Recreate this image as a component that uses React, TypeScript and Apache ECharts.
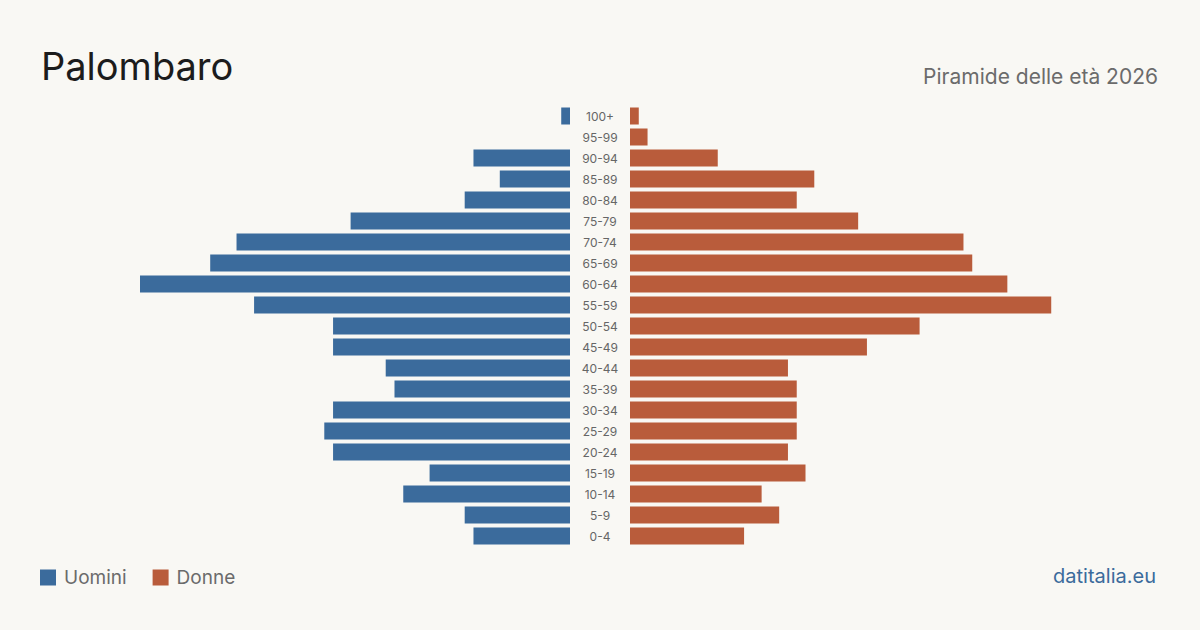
import React, { useEffect, useRef } from "react";
import * as echarts from "echarts";

// Age classes, top of the pyramid first
const ageClasses = [
  "100+", "95-99", "90-94", "85-89", "80-84", "75-79", "70-74", "65-69",
  "60-64", "55-59", "50-54", "45-49", "40-44", "35-39", "30-34", "25-29",
  "20-24", "15-19", "10-14", "5-9", "0-4",
];

const men = [1, 0, 11, 8, 12, 25, 38, 41, 49, 36, 27, 27, 21, 20, 27, 28, 27, 16, 19, 12, 11];
const women = [1, 2, 10, 21, 19, 26, 38, 39, 43, 48, 33, 27, 18, 19, 19, 19, 18, 20, 15, 17, 13];

const axisMax = 49;

const BLUE = "#3b6b9c";
const ORANGE = "#b95c3b";
const BG = "#f9f8f4";
const FONT = "Inter, 'Noto Sans', sans-serif";

export default function App() {
  const ref = useRef<HTMLDivElement>(null);

  useEffect(() => {
    if (!ref.current) return;
    const chart = echarts.init(ref.current, undefined, { renderer: "svg" });
    const gridTop = 105.5;
    const gridHeight = 441;
    chart.setOption({
      animation: false,
      backgroundColor: BG,
      textStyle: { fontFamily: FONT },
      title: [
        {
          text: "Palombaro",
          left: 36,
          top: 42,
          textStyle: { fontFamily: FONT, fontSize: 38, fontWeight: 400, color: "#1c1c1c" },
        },
        {
          text: "Piramide delle età 2026",
          right: 37,
          top: 61,
          textStyle: { fontFamily: FONT, fontSize: 21, fontWeight: 400, color: "#6b6b6b" },
        },
        {
          text: "datitalia.eu",
          right: 39,
          top: 561,
          textStyle: { fontFamily: FONT, fontSize: 20, fontWeight: 400, color: BLUE },
        },
      ],
      legend: {
        left: 40,
        top: 568,
        padding: 0,
        itemWidth: 16,
        itemHeight: 16,
        itemGap: 26,
        icon: "rect",
        textStyle: { fontFamily: FONT, fontSize: 19, color: "#6b6b6b", padding: [0, 0, 0, 3] },
        data: ["Uomini", "Donne"],
      },
      grid: [
        { left: 140, width: 430, top: gridTop, height: gridHeight },
        { left: 630, width: 430, top: gridTop, height: gridHeight },
      ],
      xAxis: [
        {
          gridIndex: 0, type: "value", min: 0, max: axisMax, inverse: true,
          axisLine: { show: false }, axisTick: { show: false },
          axisLabel: { show: false }, splitLine: { show: false },
        },
        {
          gridIndex: 1, type: "value", min: 0, max: axisMax,
          axisLine: { show: false }, axisTick: { show: false },
          axisLabel: { show: false }, splitLine: { show: false },
        },
      ],
      yAxis: [
        {
          gridIndex: 0, type: "category", data: ageClasses, inverse: true,
          position: "right",
          axisLine: { show: false }, axisTick: { show: false },
          axisLabel: { show: false },
        },
        {
          gridIndex: 1, type: "category", data: ageClasses, inverse: true,
          position: "left",
          axisLine: { show: false }, axisTick: { show: false },
          axisLabel: {
            show: true, margin: 30, align: "center",
            fontFamily: FONT, fontSize: 12, color: "#666666",
          },
        },
      ],
      series: [
        {
          name: "Uomini", type: "bar", xAxisIndex: 0, yAxisIndex: 0,
          data: men, barWidth: 17, itemStyle: { color: BLUE },
        },
        {
          name: "Donne", type: "bar", xAxisIndex: 1, yAxisIndex: 1,
          data: women, barWidth: 17, itemStyle: { color: ORANGE },
        },
      ],
    });
    return () => chart.dispose();
  }, []);

  return (
    <div
      ref={ref}
      style={{ position: "fixed", left: 0, top: 0, width: 1200, height: 630, background: BG }}
    />
  );
}
